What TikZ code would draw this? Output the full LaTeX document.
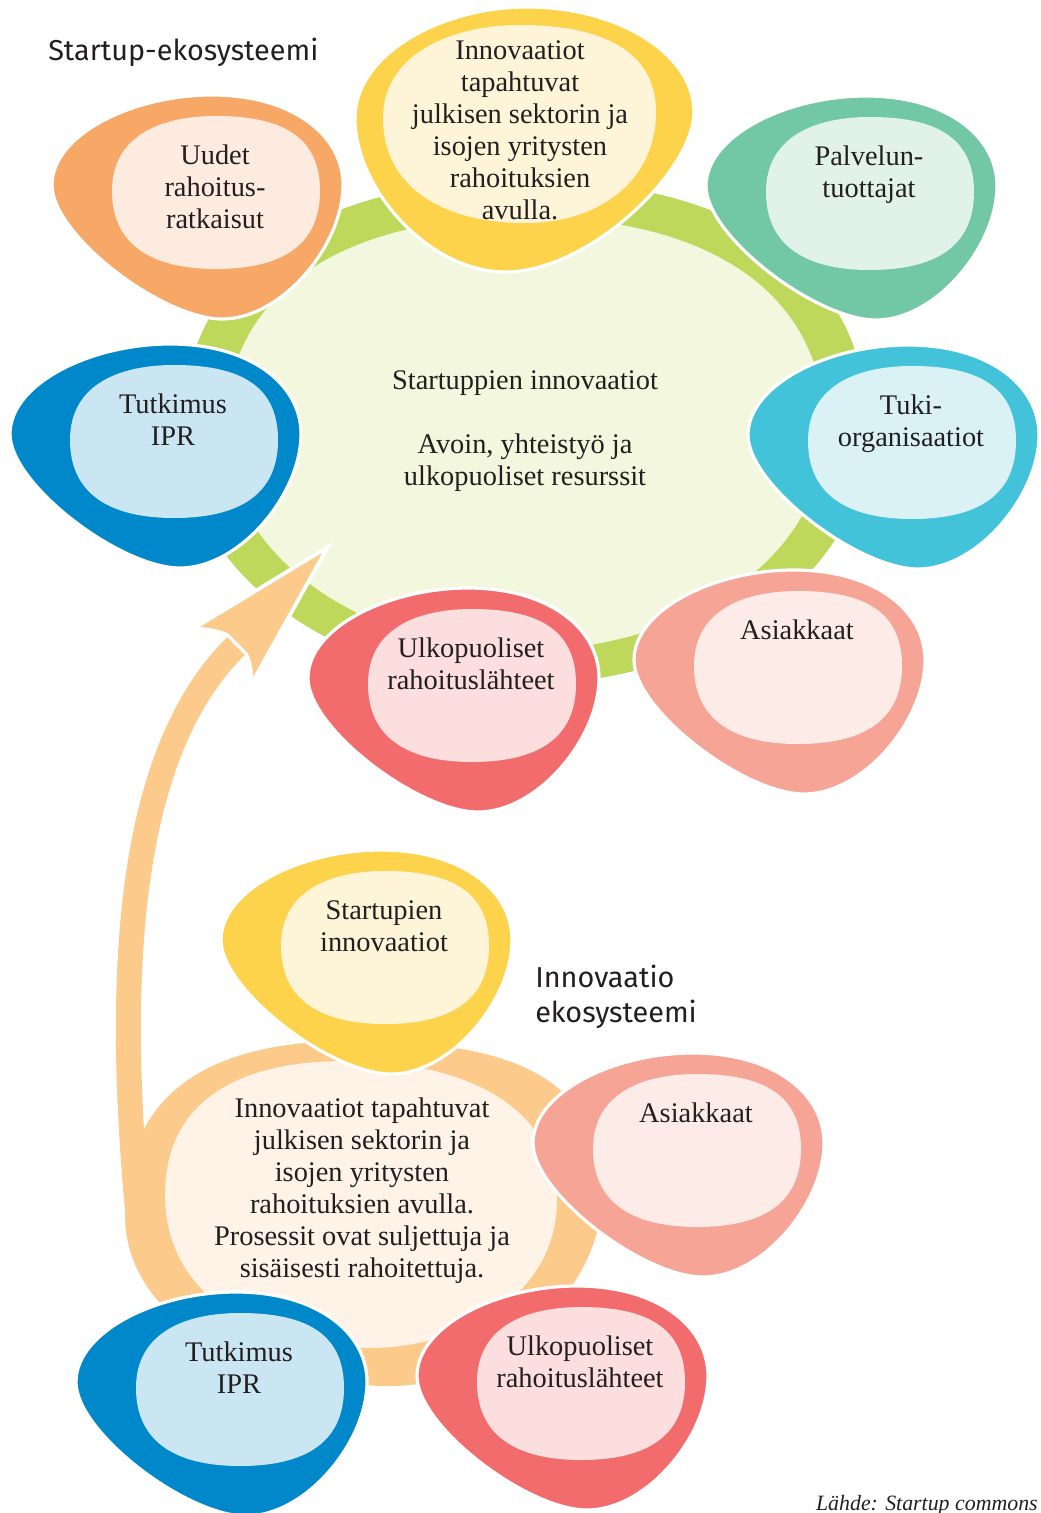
\documentclass[tikz,border=0pt]{standalone}
\usepackage{fontspec}
\setmainfont{Liberation Serif}
\newfontfamily\titlefont{Fira Sans}
\definecolor{txt}{HTML}{231F20}
\definecolor{ringgreen}{HTML}{BED85C}
\definecolor{ringlight}{HTML}{F2F7DE}
\definecolor{ringorange}{HTML}{FCCB8C}
\definecolor{ringcream}{HTML}{FEF3E6}
\definecolor{orgout}{HTML}{F7A766}\definecolor{orgin}{HTML}{FDEBDF}
\definecolor{yelout}{HTML}{FDD34B}\definecolor{yelin}{HTML}{FEF5D9}
\definecolor{grnout}{HTML}{72C7A5}\definecolor{grnin}{HTML}{E1F2EB}
\definecolor{bluout}{HTML}{0088CB}\definecolor{bluin}{HTML}{CBE6F3}
\definecolor{cyaout}{HTML}{43C3D9}\definecolor{cyain}{HTML}{DAF2F6}
\definecolor{redout}{HTML}{F26B6D}\definecolor{redin}{HTML}{FCDEDE}
\definecolor{salout}{HTML}{F6A495}\definecolor{salin}{HTML}{FDEBE8}
\newcommand{\serifsz}{\fontsize{21.3pt}{24pt}\selectfont}
\newcommand{\titlesz}{\titlefont\fontsize{21.6pt}{26.25pt}\selectfont}
\tikzset{
  blobtext/.style={anchor=north, align=center, inner sep=0pt, text=txt, font=\serifsz},
  titletext/.style={inner sep=0pt, text=txt, font=\titlesz, align=left},
  outerblob/.style={fill=#1, draw=white, line width=2.4pt},
}
\newcommand{\myblob}[6]{%
  \begin{scope}[shift={(#2,#3)}]
    \path[outerblob=#4] (0,90) .. controls (0,40) and (80,0) .. (160,0)
      .. controls (240,0) and (291,40) .. (291,90)
      .. controls (291,150) and (230,224) .. (170,224)
      .. controls (110,224) and (0,140) .. (0,90) -- cycle;
    \fill[#5] (60,96) .. controls (60,40) and (110,21) .. (164,21)
      .. controls (235,21) and (268,45) .. (268,96)
      .. controls (268,150) and (230,174) .. (164,174)
      .. controls (100,174) and (60,150) .. (60,96) -- cycle;
    \node[blobtext] (#1) at (163,50) {#6};
  \end{scope}}
\begin{document}
\begin{tikzpicture}[x=0.75pt,y=-0.75pt]
\useasboundingbox (0,0) rectangle (1041,1513);
% ---------- top green ring ----------
\fill[ringgreen] (182,432) .. controls (182,273) and (309,180) .. (525,180)
  .. controls (741,180) and (868,273) .. (868,432)
  .. controls (868,571) and (714,684) .. (525,684)
  .. controls (336,684) and (182,571) .. (182,432) -- cycle;
\fill[ringlight] (225,432) .. controls (225,296.5) and (336,217) .. (525,217)
  .. controls (714,217) and (825,296.5) .. (825,432)
  .. controls (825,552.4) and (690.7,650) .. (525,650)
  .. controls (359.3,650) and (225,552.4) .. (225,432) -- cycle;
\node[blobtext] (ringtext) at (525,370) {Startuppien innovaatiot\\[24pt]Avoin, yhteistyö ja\\ulkopuoliset resurssit};
% ---------- top blobs ----------
\myblob{uudet}{52}{95}{orgout}{orgin}{Uudet\\rahoitus-\\ratkaisut}
\myblob{palvelun}{706}{96}{grnout}{grnin}{Palvelun-\\tuottajat}
\myblob{tutktop}{10}{344}{bluout}{bluin}{Tutkimus\\IPR}
\myblob{tuki}{748}{345}{cyaout}{cyain}{Tuki-\\organisaatiot}
\myblob{ulkotop}{308}{588}{redout}{redin}{Ulkopuoliset\\rahoituslähteet}
\myblob{asiaktop}{634}{570}{salout}{salin}{Asiakkaat}
% big yellow blob
\path[outerblob=yelout] (355,118) .. controls (355,55) and (440,7) .. (527,7)
  .. controls (620,7) and (694,55) .. (694,112)
  .. controls (694,170) and (590,272) .. (505,272)
  .. controls (430,272) and (355,190) .. (355,118) -- cycle;
\fill[yelin] (383,118) .. controls (383,55) and (450,25) .. (520,25)
  .. controls (600,25) and (656,50) .. (656,112)
  .. controls (656,180) and (600,223) .. (525,223)
  .. controls (440,223) and (383,185) .. (383,118) -- cycle;
\node[blobtext] (innotop) at (520,40) {Innovaatiot\\tapahtuvat\\julkisen sektorin ja\\isojen yritysten\\rahoituksien\\avulla.};
% ---------- arrow ----------
\coordinate (arrstart) at (138,1215);
\coordinate (arrc1) at (118,1000);
\coordinate (arrc2) at (120,760);
\coordinate (arrend) at (236,646);
\coordinate (hl) at (229,634);
\coordinate (hlb) at (200,627);
\coordinate (htip) at (322,553);
\coordinate (hrb) at (253,677);
\coordinate (hr) at (247,652);
\draw[white, line width=24.75pt] (arrstart) .. controls (arrc1) and (arrc2) .. (arrend);
\path[fill=white, draw=white, line width=6pt, line join=miter, miter limit=10]
  (hl) .. controls (224,631) and (215,628) .. (hlb) -- (htip) -- (hrb)
  .. controls (253,668) and (251,658) .. (hr) -- cycle;
% ---------- bottom ring ----------
\fill[ringorange] (125,1215) .. controls (125,1100) and (200,1041) .. (350,1041)
  .. controls (500,1041) and (602,1070) .. (602,1195)
  .. controls (602,1290) and (500,1386) .. (390,1386)
  .. controls (250,1386) and (125,1320) .. (125,1215) -- cycle;
\draw[ringorange, line width=18.75pt] (arrstart) .. controls (arrc1) and (arrc2) .. (arrend);
\fill[ringorange] (hl) .. controls (224,631) and (215,628) .. (hlb) -- (htip) -- (hrb)
  .. controls (253,668) and (251,658) .. (hr) -- cycle;
\fill[ringcream] (165,1195) .. controls (165,1100) and (240,1061) .. (345,1061)
  .. controls (470,1061) and (557,1110) .. (557,1200)
  .. controls (557,1290) and (470,1348) .. (367,1348)
  .. controls (250,1348) and (165,1290) .. (165,1195) -- cycle;
\node[blobtext] (bottext) at (362,1098) {Innovaatiot tapahtuvat\\julkisen sektorin ja\\isojen yritysten\\rahoituksien avulla.\\Prosessit ovat suljettuja ja\\sisäisesti rahoitettuja.};
% ---------- bottom blobs ----------
\myblob{startbot}{221}{850}{yelout}{yelin}{Startupien\\innovaatiot}
\myblob{asiakbot}{533}{1053}{salout}{salin}{Asiakkaat}
\myblob{tutkbot}{76}{1292}{bluout}{bluin}{Tutkimus\\IPR}
\myblob{ulkobot}{417}{1286}{redout}{redin}{Ulkopuoliset\\rahoituslähteet}
% ---------- titles ----------
\node[titletext, anchor=base west] (title1) at (48,61) {Startup-ekosysteemi};
\node[titletext, anchor=north west] (title2) at (535,965) {Innovaatio\\ekosysteemi};
\node[anchor=base east, inner sep=0pt, text=txt, font=\itshape\fontsize{16.4pt}{19pt}\selectfont] (source) at (1038,1510) {Lähde: Startup commons};
\end{tikzpicture}
\end{document}
